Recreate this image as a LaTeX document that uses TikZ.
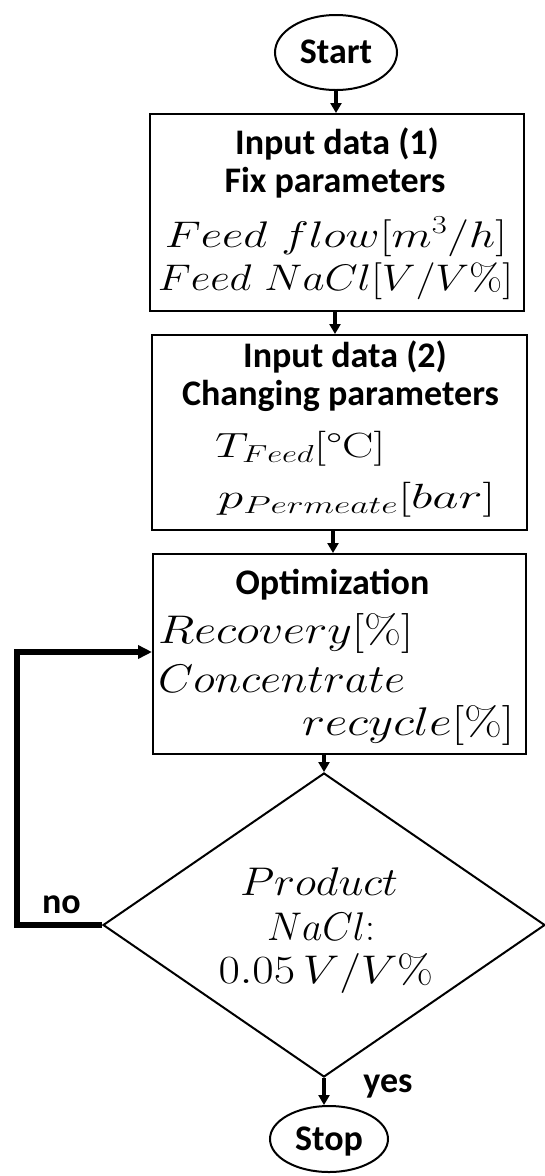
\RequirePackage{fix-cm}
\documentclass[tikz,border=0pt]{standalone}
\usepackage{fontspec}
\usepackage{graphicx}
\newfontfamily\carlito{Carlito}
\usetikzlibrary{shapes.geometric,arrows.meta}
\newcommand\mline[2]{\resizebox{#1pt}{\height}{$#2$}}
\begin{document}
\begin{tikzpicture}[x=1pt,y=-1pt,
  bt/.style={font=\carlito\bfseries\fontsize{36}{40}\selectfont, inner sep=0pt},
  mtA/.style={font=\fontsize{37}{42}\selectfont, inner sep=0pt},
  mtB/.style={font=\fontsize{35}{40}\selectfont, inner sep=0pt},
  mtC/.style={font=\fontsize{40}{44}\selectfont, inner sep=0pt},
  stepbox/.style={draw, line width=2pt, rectangle, inner sep=0pt},
  term/.style={draw, line width=2pt, ellipse, inner sep=0pt, text height=22pt, text depth=0pt,
               font=\carlito\bfseries\fontsize{36}{40}\selectfont},
  arr/.style={line width=4.2pt, -{Triangle[length=10pt,width=11pt]}},
  fb/.style={line width=6.5pt, -{Triangle[length=14pt,width=13pt]}}]
\useasboundingbox (0,0) rectangle (544,1176);
\fill[white] (0,0) rectangle (544,1176);

% terminals
\node[term, minimum width=122pt, minimum height=75pt] (start) at (336,52.5) {Start};
\node[term, minimum width=118pt, minimum height=66pt] (stop) at (329,1139) {Stop};

% boxes
\node[stepbox, minimum width=374pt, minimum height=197pt] (box1) at (337,212.5) {};
\node[stepbox, minimum width=375pt, minimum height=195pt] (box2) at (339.5,432.5) {};
\node[stepbox, minimum width=373pt, minimum height=200pt] (box3) at (339.5,654) {};

% decision
\node[draw, line width=2pt, diamond, aspect=1.45, inner sep=0pt,
      minimum width=442pt, minimum height=304pt] (dia) at (324,925) {};

% box 1 text
\node[bt, anchor=base] (t1a) at (337,154) {Input data (1)};
\node[bt, anchor=base] (t1b) at (335,192) {Fix parameters};
\node[mtA, anchor=base] (t1c) at (336,247) {\mline{342}{Feed\ flow[m^3/h]}};
\node[mtA, anchor=base] (t1d) at (335.5,290) {\mline{355}{Feed\ NaCl[V/V\%]}};

% box 2 text
\node[bt, anchor=base] (t2a) at (345,367) {Input data (2)};
\node[bt, anchor=base] (t2b) at (340.5,405) {Changing parameters};
\node[mtB, anchor=base west] (t2c) at (215,457) {\mline{170}{T_{Feed}[\mbox{°C}]}};
\node[mtB, anchor=base west] (t2d) at (218,508) {\mline{277}{p_{Permeate}[bar]}};

% box 3 text
\node[bt, anchor=base] (t3a) at (332.5,594) {Optimization};
\node[mtC, anchor=base west] (t3b) at (158,643) {\mline{255}{Recovery[\%]}};
\node[mtC, anchor=base west] (t3c) at (158,692) {\mline{247}{Concentrate}};
\node[mtC, anchor=base west] (t3d) at (302,735) {\mline{212}{recycle[\%]}};

% decision text
\node[mtC, anchor=base] (d1) at (319,895) {\mline{158}{Product}};
\node[mtC, anchor=base] (d2) at (321,940) {\mline{108}{NaCl{:}}};
\node[mtC, anchor=base] (d3) at (326,983) {\mline{215}{0.05\,V/V\%}};

% labels
\node[bt, anchor=base] (lno) at (61.5,913) {no};
\node[bt, anchor=base] (lyes) at (388,1092) {yes};

% connectors
\draw[arr] (start.south) -- (start.south |- box1.north);
\draw[arr] ([xshift=-2pt]box1.south) -- ([xshift=-2pt]box1.south |- box2.north);
\draw[arr] ([xshift=-6.5pt]box2.south) -- ([xshift=-6.5pt]box2.south |- box3.north);
\draw[arr] (dia.north |- box3.south) -- (dia.north);
\draw[arr] (dia.south) -- (dia.south |- stop.north);

\coordinate (fbB) at (17,652);
\draw[fb] (dia.west) -| (fbB) -- (fbB -| box3.west);
\end{tikzpicture}
\end{document}
